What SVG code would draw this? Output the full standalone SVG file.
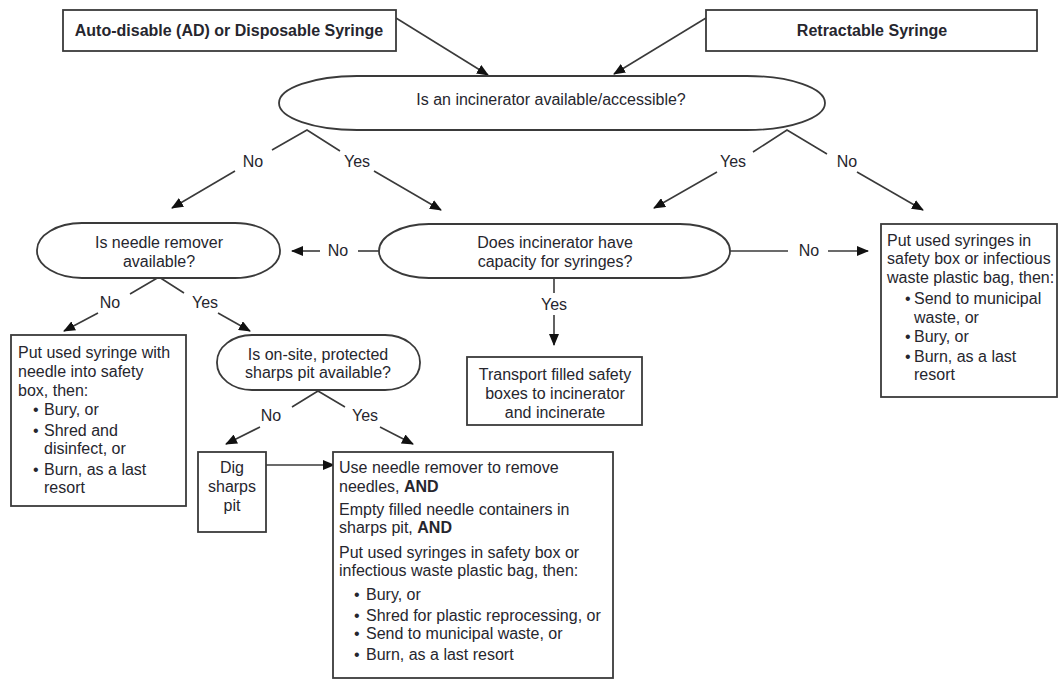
<svg xmlns="http://www.w3.org/2000/svg" width="1059" height="680" viewBox="0 0 1059 680">
<defs>
<marker id="ah" markerWidth="12" markerHeight="10" refX="11" refY="5" orient="auto" markerUnits="userSpaceOnUse">
<path d="M0,0 L12,5 L0,10 Z" fill="#111"/>
</marker>
<style>
text{font-family:"Liberation Sans",Arial,sans-serif;font-size:16px;fill:#26262e}
.b{font-weight:bold}
.c{text-anchor:middle}
.shape{fill:#fff;stroke:#3a3a3a;stroke-width:1.8}
.ln{fill:none;stroke:#3a3a3a;stroke-width:1.6}
.ar{fill:none;stroke:#3a3a3a;stroke-width:1.6;marker-end:url(#ah)}
</style>
</defs>
<rect width="1059" height="680" fill="#fff"/>

<g id="connectors">
<line class="ar" x1="396" y1="18" x2="488" y2="75"/>
<line class="ar" x1="706" y1="18" x2="614" y2="74"/>
<polyline class="ln" points="272,150 307,130 340,151"/>
<line class="ar" x1="235" y1="171" x2="172" y2="208"/>
<line class="ar" x1="374" y1="171" x2="441" y2="210"/>
<polyline class="ln" points="753,152 787,130 827,154"/>
<line class="ar" x1="717" y1="172" x2="654" y2="208"/>
<line class="ar" x1="857" y1="172" x2="923" y2="210"/>
<line class="ln" x1="358" y1="251" x2="379" y2="251"/>
<line class="ar" x1="320" y1="251" x2="292" y2="251"/>
<line class="ln" x1="730" y1="251" x2="788" y2="251"/>
<line class="ar" x1="828" y1="251" x2="868" y2="251"/>
<line class="ln" x1="554" y1="278" x2="554" y2="293"/>
<line class="ar" x1="554" y1="315" x2="554" y2="345"/>
<polyline class="ln" points="130,294 159,277 184,293"/>
<line class="ar" x1="98" y1="313" x2="64" y2="331"/>
<line class="ar" x1="218" y1="313" x2="250" y2="331"/>
<polyline class="ln" points="292,407 318,391 345,407"/>
<line class="ar" x1="260" y1="427" x2="226" y2="444"/>
<line class="ar" x1="380" y1="427" x2="413" y2="444"/>
<line class="ar" x1="266" y1="465" x2="334" y2="465"/>
<text class="c" x="253" y="167">No</text>
<text class="c" x="357" y="167">Yes</text>
<text class="c" x="733" y="167">Yes</text>
<text class="c" x="847" y="167">No</text>
<text class="c" x="338" y="256">No</text>
<text class="c" x="809" y="256">No</text>
<text class="c" x="554" y="310">Yes</text>
<text class="c" x="110" y="308">No</text>
<text class="c" x="205" y="308">Yes</text>
<text class="c" x="271" y="421">No</text>
<text class="c" x="365" y="421">Yes</text>
</g>

<g id="ad-syringe">
<rect class="shape" x="63" y="10" width="333" height="41"/>
<text class="b c" x="229" y="36">Auto-disable (AD) or Disposable Syringe</text>
</g>

<g id="retractable">
<rect class="shape" x="706" y="10" width="331" height="41"/>
<text class="b c" x="872" y="36">Retractable Syringe</text>
</g>

<g id="incinerator-available">
<rect class="shape" x="279" y="76" width="546" height="54" rx="78" ry="27"/>
<text class="c" x="551" y="105">Is an incinerator available/accessible?</text>
</g>

<g id="capacity">
<rect class="shape" x="379" y="224" width="351" height="54" rx="50" ry="27"/>
<text class="c" x="555" y="248">Does incinerator have</text>
<text class="c" x="555" y="267">capacity for syringes?</text>
</g>

<g id="needle-remover">
<rect class="shape" x="37" y="223" width="243" height="55" rx="45" ry="27"/>
<text class="c" x="159" y="248">Is needle remover</text>
<text class="c" x="159" y="267">available?</text>
</g>

<g id="right-box">
<rect class="shape" x="881" y="224" width="176" height="173"/>
<text x="887" y="246">Put used syringes in</text>
<text x="887" y="264">safety box or infectious</text>
<text x="887" y="283">waste plastic bag, then:</text>
<text x="905" y="304">•</text><text x="914" y="304">Send to municipal</text>
<text x="914" y="323">waste, or</text>
<text x="905" y="342">•</text><text x="914" y="342">Bury, or</text>
<text x="905" y="362">•</text><text x="914" y="362">Burn, as a last</text>
<text x="914" y="380">resort</text>
</g>

<g id="transport">
<rect class="shape" x="467" y="357" width="175" height="68"/>
<text class="c" x="555" y="380">Transport filled safety</text>
<text class="c" x="555" y="399">boxes to incinerator</text>
<text class="c" x="555" y="418">and incinerate</text>
</g>

<g id="left-box">
<rect class="shape" x="11" y="335" width="175" height="171"/>
<text x="18" y="358">Put used syringe with</text>
<text x="18" y="377">needle into safety</text>
<text x="18" y="396">box, then:</text>
<text x="33" y="415">•</text><text x="44" y="415">Bury, or</text>
<text x="33" y="436">•</text><text x="44" y="436">Shred and</text>
<text x="44" y="454">disinfect, or</text>
<text x="33" y="475">•</text><text x="44" y="475">Burn, as a last</text>
<text x="44" y="493">resort</text>
</g>

<g id="sharps-pit">
<rect class="shape" x="217" y="335" width="203" height="55" rx="35" ry="27"/>
<text class="c" x="318" y="360">Is on-site, protected</text>
<text class="c" x="318" y="378">sharps pit available?</text>
</g>

<g id="dig-pit">
<rect class="shape" x="198" y="452" width="68" height="80"/>
<text class="c" x="232" y="473">Dig</text>
<text class="c" x="232" y="492">sharps</text>
<text class="c" x="232" y="511">pit</text>
</g>

<g id="big-box">
<rect class="shape" x="333" y="452" width="280" height="226"/>
<text x="339" y="473">Use needle remover to remove</text>
<text x="339" y="492">needles, <tspan class="b">AND</tspan></text>
<text x="339" y="515">Empty filled needle containers in</text>
<text x="339" y="533">sharps pit, <tspan class="b">AND</tspan></text>
<text x="339" y="558">Put used syringes in safety box or</text>
<text x="339" y="576">infectious waste plastic bag, then:</text>
<text x="354" y="600">•</text><text x="366" y="600">Bury, or</text>
<text x="354" y="621">•</text><text x="366" y="621">Shred for plastic reprocessing, or</text>
<text x="354" y="639">•</text><text x="366" y="639">Send to municipal waste, or</text>
<text x="354" y="660">•</text><text x="366" y="660">Burn, as a last resort</text>
</g>
</svg>
